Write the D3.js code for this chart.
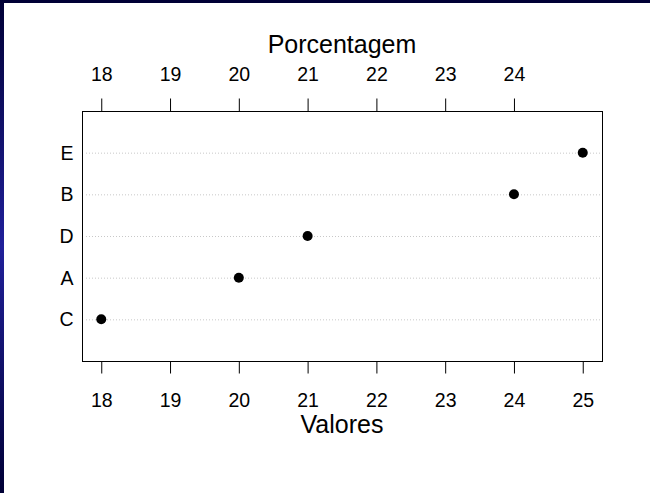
<!DOCTYPE html>
<html>
<head>
<meta charset="utf-8">
<script src="https://cdn.jsdelivr.net/npm/d3@7"></script>
<style>
  body { margin: 0; background: #fff; }
  svg text { font-family: "Liberation Sans", Arial, sans-serif; fill: #000; }
</style>
</head>
<body>
<div id="chart"></div>
<script>
// values, bottom to top
const categories = ['C', 'A', 'D', 'B', 'E'];
const values = [18, 20, 21, 24, 25];
const bottomTicks = [18, 19, 20, 21, 22, 23, 24, 25];
const topTicks = [18, 19, 20, 21, 22, 23, 24];

const width = 650;
const height = 493;
const box = { left: 82, right: 602, top: 111, bottom: 361 };
const tickFont = '19.5px';

const svg = d3.select('#chart').append('svg')
  .attr('width', width)
  .attr('height', height);

// dark frame on top and left
const defs = svg.append('defs');
const grad = defs.append('linearGradient')
  .attr('id', 'leftEdge')
  .attr('x1', 0).attr('y1', 0).attr('x2', 0).attr('y2', 1);
grad.append('stop').attr('offset', '0%').attr('stop-color', '#000035');
grad.append('stop').attr('offset', '50%').attr('stop-color', '#20209a');
grad.append('stop').attr('offset', '100%').attr('stop-color', '#000035');

svg.append('rect').attr('x', 0).attr('y', 0).attr('width', width).attr('height', 3).attr('fill', '#000035');
svg.append('rect').attr('x', 0).attr('y', 0).attr('width', 4).attr('height', height).attr('fill', 'url(#leftEdge)');

const x = d3.scaleLinear()
  .domain([17.72, 25.28])
  .range([box.left, box.right]);

const y = d3.scaleLinear()
  .domain([0, categories.length + 1])
  .range([box.bottom, box.top]);

// dotted reference lines
svg.append('g')
  .selectAll('line')
  .data(categories)
  .enter()
  .append('line')
  .attr('x1', box.left + 4)
  .attr('x2', box.right - 2)
  .attr('y1', (d, i) => y(i + 1) + 0.5)
  .attr('y2', (d, i) => y(i + 1) + 0.5)
  .attr('stroke', '#c8c8c8')
  .attr('stroke-width', 1)
  .attr('stroke-dasharray', '1,2');

// bottom axis
const bottomAxis = svg.append('g')
  .attr('transform', `translate(0,${box.bottom})`)
  .call(d3.axisBottom(x).tickValues(bottomTicks).tickSize(12.5).tickPadding(20).tickFormat(d3.format('d')));
bottomAxis.select('.domain').remove();
bottomAxis.selectAll('line').attr('stroke', '#000');
bottomAxis.selectAll('text').style('font-size', tickFont);

// top axis
const topAxis = svg.append('g')
  .attr('transform', `translate(0,${box.top})`)
  .call(d3.axisTop(x).tickValues(topTicks).tickSize(12.5).tickPadding(17.8).tickFormat(d3.format('d')));
topAxis.select('.domain').remove();
topAxis.selectAll('line').attr('stroke', '#000');
topAxis.selectAll('text').style('font-size', tickFont);

// category labels
svg.append('g')
  .selectAll('text')
  .data(categories)
  .enter()
  .append('text')
  .attr('x', box.left - 8.5)
  .attr('y', (d, i) => y(i + 1))
  .attr('dy', '0.36em')
  .attr('text-anchor', 'end')
  .style('font-size', tickFont)
  .text(d => d);

// panel box
svg.append('rect')
  .attr('x', box.left + 0.5)
  .attr('y', box.top + 0.5)
  .attr('width', box.right - box.left)
  .attr('height', box.bottom - box.top)
  .attr('fill', 'none')
  .attr('stroke', '#000')
  .attr('stroke-width', 1);

// points
svg.append('g')
  .selectAll('circle')
  .data(values)
  .enter()
  .append('circle')
  .attr('cx', d => x(d))
  .attr('cy', (d, i) => y(i + 1))
  .attr('r', 5)
  .attr('fill', '#000');

// axis titles
svg.append('text')
  .attr('x', (box.left + box.right) / 2)
  .attr('y', 53.3)
  .attr('text-anchor', 'middle')
  .style('font-size', '25px')
  .text('Porcentagem');

svg.append('text')
  .attr('x', (box.left + box.right) / 2)
  .attr('y', 433.3)
  .attr('text-anchor', 'middle')
  .style('font-size', '25px')
  .text('Valores');
</script>
</body>
</html>
